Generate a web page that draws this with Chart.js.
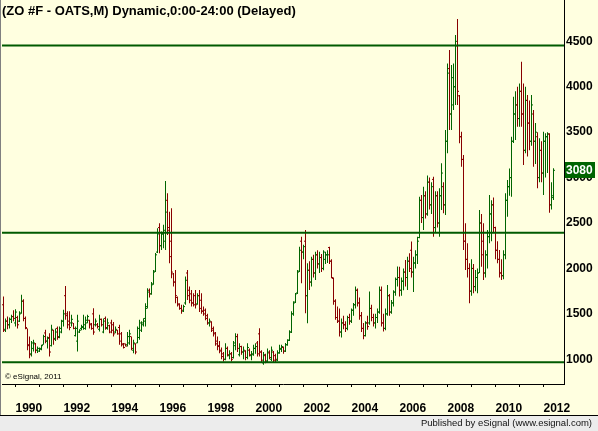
<!DOCTYPE html>
<html>
<head>
<meta charset="utf-8">
<script src="https://cdn.jsdelivr.net/npm/chart.js@4.4.0/dist/chart.umd.min.js"></script>
<style>
  html, body { margin: 0; padding: 0; background: #ffffe0; }
</style>
</head>
<body>
<canvas id="myChart" width="598" height="431"></canvas>
<script>
// monthly OHLC bars, first bar = Jul 1989 (month 6 counted from Jan 1989)
var firstMonth = 6;

var opens = [
  1600,1330,1420,1380,1440,1470,
  1400,1460,1420,1510,1640,1450,1340,1160,1060,1120,1170,1100,
  1090,1110,1160,1290,1200,1240,1150,1320,1230,1340,1250,1300,
  1420,1700,1500,1420,1400,1400,1260,1200,1300,1340,1360,1340,
  1400,1430,1390,1500,1380,1380,1330,1440,1300,1450,1340,1370,
  1400,1380,1300,1320,1350,1280,1170,1170,1160,1180,1250,1100,
  1170,1180,1240,1320,1380,1450,1580,1760,1720,1830,1970,2180,
  2450,2250,2380,2300,2750,2450,2300,1940,1850,1680,1610,1560,
  1530,1620,1950,1760,1720,1620,1700,1610,1700,1650,1530,1540,
  1480,1400,1410,1340,1290,1200,1150,1100,1060,1000,1120,1040,
  1060,1020,1150,1250,1050,1140,1080,1090,1020,1100,1040,1050,
  1120,1180,1280,1080,960,1040,980,1070,1000,1080,1040,990,
  1070,1110,1130,1090,1160,1210,1300,1500,1630,1730,1970,2300,
  2180,2300,1700,1980,1850,2100,1950,2150,2050,2120,2000,2100,
  2150,2230,2080,1890,1640,1460,1420,1300,1400,1380,1340,1460,
  1420,1540,1600,1760,1620,1480,1340,1260,1400,1400,1560,1460,
  1400,1460,1520,1760,1400,1340,1500,1700,1520,1620,1740,1880,
  1900,1760,1860,1960,1900,2080,2200,1960,2060,2150,2340,2750,
  2560,2800,2600,2950,2700,2980,2450,2800,2500,2800,2900,2700,
  3400,4200,3700,3800,4000,4450,3900,3450,3200,2300,2100,2000,
  1750,2000,1800,1900,1950,2500,2300,1950,2150,2350,2600,2700,
  2450,2200,2100,1950,1920,2150,2750,2900,3000,3400,3700,3800,
  3650,3950,3700,3300,3850,3600,3400,3700,3400,3450,3000,3300,
  3050,3400,3450,3480,2700,2780
];
var highs = [
  1690,1450,1470,1460,1490,1540,
  1550,1480,1530,1710,1660,1470,1340,1250,1200,1214,1180,1140,
  1130,1160,1270,1324,1250,1287,1379,1324,1340,1360,1360,1434,
  1544,1808,1530,1530,1490,1400,1360,1489,1330,1380,1489,1470,
  1489,1434,1400,1562,1450,1400,1489,1450,1450,1470,1450,1380,
  1434,1410,1360,1324,1379,1300,1180,1175,1300,1324,1250,1214,
  1177,1360,1434,1420,1452,1617,1782,1780,1850,1984,2170,2442,
  2497,2406,2480,2963,2827,2625,2662,1950,1984,1690,1617,1600,
  1600,1910,1984,1800,1764,1727,1764,1727,1764,1727,1580,1560,
  1500,1450,1420,1360,1300,1250,1200,1130,1080,1177,1140,1100,
  1080,1200,1287,1280,1177,1150,1140,1100,1177,1120,1090,1160,
  1177,1200,1342,1100,1080,1060,1120,1100,1140,1090,1060,1100,
  1160,1160,1140,1180,1220,1320,1530,1640,1730,1984,2240,2350,
  2260,2424,2057,2080,2130,2150,2185,2200,2185,2160,2200,2185,
  2200,2240,2100,1900,1660,1580,1560,1450,1480,1420,1480,1500,
  1560,1620,1800,1780,1680,1520,1400,1420,1480,1745,1600,1500,
  1500,1560,1800,1800,1500,1560,1819,1720,1654,1760,1900,2021,
  2020,1900,2000,2094,2130,2167,2296,2130,2200,2350,2790,2809,
  2900,2850,3022,3000,2950,3010,2850,2850,2882,3157,2950,3524,
  4257,4404,4239,4257,4569,4745,3909,3506,3249,2497,2277,2057,
  2100,2050,1984,2000,2644,2600,2497,2200,2424,2809,2750,2780,
  2460,2300,2204,2100,2200,2827,2974,3100,3451,3891,3950,4000,
  4037,4276,4037,4000,3909,3850,3909,3744,3600,3500,3432,3400,
  3506,3488,3500,3488,2950,3102
];
var lows = [
  1300,1300,1330,1340,1400,1420,
  1360,1340,1410,1500,1420,1330,1100,1012,1030,1086,1067,1070,
  1080,1100,1160,1177,1120,1030,1140,1160,1200,1214,1232,1287,
  1360,1434,1340,1320,1360,1330,1250,1086,1290,1320,1324,1324,
  1397,1340,1324,1269,1360,1340,1306,1360,1287,1324,1324,1287,
  1287,1250,1287,1270,1159,1140,1120,1140,1140,1159,1100,1067,
  1056,1177,1214,1300,1360,1360,1560,1680,1710,1820,1960,2170,
  2167,2204,2222,2204,2369,2057,1892,1800,1617,1580,1544,1500,
  1520,1600,1654,1617,1580,1580,1560,1600,1520,1500,1480,1430,
  1380,1360,1300,1250,1150,1100,1067,1000,976,990,1030,1000,
  976,1010,1100,1080,1030,1050,1000,990,1000,1030,990,1040,
  1060,1030,1030,960,940,957,970,1000,980,960,970,980,
  1060,1080,1060,1080,1150,1200,1290,1480,1620,1720,1960,1837,
  2100,1507,1397,1764,1800,1900,1874,2000,1950,1960,1980,2050,
  2060,2050,1892,1600,1434,1400,1250,1240,1330,1300,1320,1380,
  1400,1480,1560,1580,1434,1300,1221,1250,1324,1380,1420,1360,
  1340,1400,1500,1360,1306,1320,1480,1480,1500,1580,1700,1800,
  1690,1700,1760,1800,1764,1960,1900,1740,2000,2050,2332,2500,
  2424,2550,2580,2650,2600,2350,2400,2450,2350,2644,2607,2589,
  3267,3524,3524,3744,3800,3799,3377,3120,2204,1984,1900,1617,
  1700,1727,1750,1727,1950,2020,1874,1900,2000,2277,2300,2400,
  2100,2057,1900,1874,1880,2100,2570,2800,2790,3380,3414,3561,
  3561,3561,3139,3267,3231,3300,3350,3120,3150,2882,2950,2950,
  2809,3000,3050,2614,2650,2754
];
var closes = [
  1320,1420,1380,1440,1470,1450,
  1520,1380,1500,1640,1450,1350,1150,1050,1180,1180,1100,1120,
  1120,1150,1250,1200,1230,1080,1330,1220,1300,1240,1340,1420,
  1500,1480,1380,1350,1440,1340,1340,1420,1320,1350,1380,1430,
  1470,1380,1340,1300,1420,1360,1440,1380,1420,1350,1400,1300,
  1320,1280,1330,1280,1200,1160,1130,1145,1250,1280,1120,1180,
  1080,1340,1400,1400,1420,1560,1740,1720,1820,1960,2150,2380,
  2250,2380,2420,2620,2420,2130,1960,1850,1700,1600,1560,1540,
  1580,1870,1700,1650,1620,1600,1600,1700,1560,1530,1500,1450,
  1400,1420,1320,1280,1170,1140,1090,1030,1000,1120,1050,1060,
  1000,1180,1250,1120,1140,1080,1100,1020,1130,1050,1060,1120,
  1140,1060,1080,990,1050,980,1080,1020,1100,990,1000,1070,
  1120,1140,1090,1160,1210,1300,1500,1620,1720,1960,2200,2180,
  2240,1700,1980,1850,2100,1950,2150,2050,2120,2000,2180,2150,
  2150,2080,1900,1640,1460,1420,1300,1400,1380,1340,1460,1420,
  1540,1600,1760,1620,1480,1340,1260,1400,1360,1560,1460,1400,
  1460,1520,1760,1400,1340,1500,1700,1520,1620,1740,1880,1900,
  1760,1860,1960,1900,2080,2000,1960,2060,2150,2300,2750,2560,
  2800,2600,2950,2700,2900,2450,2800,2500,2800,3050,2700,3400,
  4150,3700,4100,4000,4500,3950,3450,3200,2300,2100,2000,1750,
  2000,1800,1900,1950,2500,2150,1950,2150,2350,2600,2700,2450,
  2200,2100,1950,1920,2150,2750,2900,3000,3400,3700,3800,3650,
  3950,3700,3300,3850,3600,3400,3800,3400,3500,3000,3300,3050,
  3400,3450,3480,2700,2800,3080
];

var levels = [4455, 2393, 968];
var priceTicks = [1000, 1500, 2000, 2500, 3000, 3500, 4000, 4500];
var yearTicks = [1990, 1991, 1992, 1993, 1994, 1995, 1996, 1997, 1998, 1999, 2000, 2001,
  2002, 2003, 2004, 2005, 2006, 2007, 2008, 2009, 2010, 2011, 2012];

var paper = '#ffffe0';
var upColor = '#006400';
var downColor = '#880000';
var levelColor = '#005a00';
var tickFont = { family: "'Liberation Sans', Arial, sans-serif", size: 12, weight: 'bold' };

var xMin = 5.25, xMax = 286.25;
var yMin = 728, yMax = 4955;

var months = closes.map(function (c, i) { return firstMonth + i; });
var barColors = closes.map(function (c, i) { return c >= opens[i] ? upColor : downColor; });
var lastPrice = closes[closes.length - 1];

var levelSets = levels.map(function (lv) {
  return {
    type: 'line',
    data: [{ x: xMin, y: lv }, { x: xMax, y: lv }],
    borderColor: levelColor,
    borderWidth: 2,
    pointRadius: 0,
    order: 0
  };
});

var esignalFrame = {
  id: 'esignalFrame',
  beforeDraw: function (chart) {
    var ctx = chart.ctx;
    var band = chart.scales.x.bottom;
    ctx.save();
    ctx.fillStyle = paper;
    ctx.fillRect(0, 0, chart.width, chart.height);
    ctx.fillStyle = '#ececec';
    ctx.fillRect(0, band, chart.width, chart.height - band);
    ctx.fillStyle = '#000';
    ctx.fillRect(0, band - 1, chart.width, 1);
    ctx.fillStyle = '#808080';
    ctx.fillRect(0, 0, 1, band - 1);
    ctx.restore();
  },
  afterDraw: function (chart) {
    var ctx = chart.ctx;
    var area = chart.chartArea;
    var band = chart.scales.x.bottom;
    ctx.save();
    ctx.fillStyle = '#000';
    ctx.textBaseline = 'alphabetic';
    ctx.textAlign = 'left';
    ctx.font = "bold 13px 'Liberation Sans', Arial, sans-serif";
    ctx.fillText('(ZO #F - OATS,M) Dynamic,0:00-24:00 (Delayed)', 2, 15);

    ctx.font = "8px 'Liberation Sans', Arial, sans-serif";
    ctx.fillText('\u00a9 eSignal, 2011', 5, area.bottom - 5);

    ctx.textAlign = 'right';
    ctx.fillStyle = '#111';
    ctx.font = "9.5px 'Liberation Sans', Arial, sans-serif";
    ctx.fillText('Published by eSignal (www.esignal.com)', chart.width - 6, band + 10);

    // last price marker on the price axis
    var py = Math.round(chart.scales.y.getPixelForValue(lastPrice));
    ctx.fillStyle = upColor;
    ctx.fillRect(area.right + 1, py - 8, 30, 16);
    ctx.fillStyle = '#fff';
    ctx.textAlign = 'left';
    ctx.textBaseline = 'middle';
    ctx.font = "bold 12px 'Liberation Sans', Arial, sans-serif";
    ctx.fillText(String(lastPrice), area.right + 2, py + 1);
    ctx.restore();
  }
};

var ctx = document.getElementById('myChart').getContext('2d');
var chart = new Chart(ctx, {
  type: 'bar',
  data: {
    datasets: levelSets.concat([
      {
        type: 'line',
        data: months.map(function (m, i) { return { x: m - 0.5, y: opens[i] }; }),
        showLine: false,
        pointStyle: 'line',
        pointRadius: 0.5,
        pointHoverRadius: 0.5,
        pointBorderWidth: 1,
        pointBorderColor: barColors,
        order: 1
      },
      {
        type: 'line',
        data: months.map(function (m, i) { return { x: m + 0.5, y: closes[i] }; }),
        showLine: false,
        pointStyle: 'line',
        pointRadius: 0.5,
        pointHoverRadius: 0.5,
        pointBorderWidth: 1,
        pointBorderColor: barColors,
        order: 1
      },
      {
        type: 'bar',
        data: months.map(function (m, i) { return { x: m, y: [lows[i], highs[i]] }; }),
        backgroundColor: barColors,
        borderWidth: 0,
        barThickness: 1,
        inflateAmount: 0,
        order: 2
      }
    ])
  },
  options: {
    responsive: false,
    animation: false,
    devicePixelRatio: 1,
    events: [],
    layout: { autoPadding: false, padding: { left: 2, right: 0, top: 0, bottom: 15 } },
    plugins: { legend: { display: false }, tooltip: { enabled: false } },
    scales: {
      x: {
        type: 'linear',
        min: xMin,
        max: xMax,
        offset: false,
        afterBuildTicks: function (scale) {
          scale.ticks = yearTicks.map(function (y) { return { value: (y - 1989) * 12 }; });
        },
        ticks: {
          autoSkip: false,
          maxRotation: 0,
          minRotation: 0,
          align: 'start',
          padding: 14,
          color: '#000',
          font: tickFont,
          callback: function (v) {
            var y = 1989 + v / 12;
            return y % 2 === 0 ? String(y) : '';
          }
        },
        grid: { drawOnChartArea: false, drawTicks: true, tickLength: 3, color: '#000', offset: false },
        border: { display: true, color: '#000', width: 1 },
        afterFit: function (scale) {
          scale.height = 32;
          scale.paddingLeft = 0;
          scale.paddingRight = 0;
        }
      },
      y: {
        type: 'linear',
        position: 'right',
        min: yMin,
        max: yMax,
        afterBuildTicks: function (scale) {
          scale.ticks = priceTicks.map(function (p) { return { value: p }; });
        },
        ticks: {
          padding: 2,
          color: '#000',
          font: tickFont,
          callback: function (v) { return String(v); }
        },
        grid: { drawOnChartArea: false, drawTicks: false },
        border: { display: true, color: '#000', width: 1 },
        afterFit: function (scale) {
          scale.width = 34;
          scale.paddingTop = 0;
          scale.paddingBottom = 0;
        }
      }
    }
  },
  plugins: [esignalFrame]
});
</script>
</body>
</html>
